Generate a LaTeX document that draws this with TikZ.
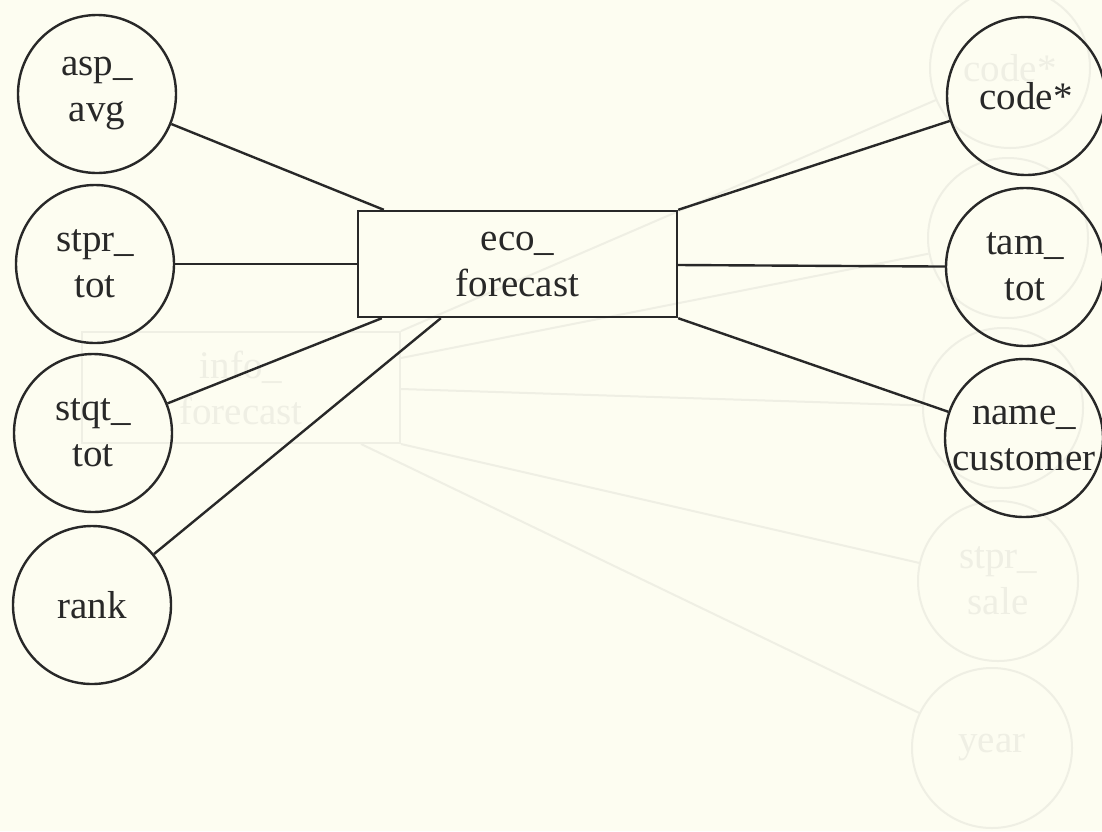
\documentclass[tikz,border=0pt]{standalone}
\usepackage{fontspec}
\setmainfont{Liberation Serif}
\usetikzlibrary{calc}
\definecolor{paper}{RGB}{253,253,241}
\definecolor{ink}{RGB}{40,40,40}
\definecolor{ghost}{RGB}{239,239,228}
\begin{document}
\begin{tikzpicture}[x=1pt,y=-1pt,
  lbl/.style={font=\fontsize{39}{46}\selectfont},
  attr/.style={lbl,circle,draw=ink,line width=2.4pt,minimum size=158pt,inner sep=0pt,align=center,text=ink},
  ent/.style={lbl,rectangle,draw=ink,line width=2.4pt,minimum width=319pt,minimum height=106pt,inner sep=0pt,align=center,text=ink},
  link/.style={draw=ink,line width=2.4pt},
  gattr/.style={lbl,circle,draw=ghost,line width=2pt,minimum size=160pt,inner sep=0pt,align=center,text=ghost},
  gent/.style={lbl,rectangle,draw=ghost,line width=2pt,minimum width=318pt,minimum height=111pt,inner sep=0pt,align=center,text=ghost},
  glink/.style={draw=ghost,line width=2pt}]
\useasboundingbox (0,0) rectangle (1102,831);
\clip (0,0) rectangle (1102,831);
\fill[paper] (0,0) rectangle (1102,831);

% faint show-through from the underlying page
\node[gent] (gi) at (241,387.5) {info\_\\forecast};
\node[gattr] (g1) at (1010,68) {code*};
\node[gattr] (g2) at (1008,238) {};
\node[gattr] (g3) at (1003,408) {};
\node[gattr] (g4) at (998,581) {stpr\_\\sale};
\node[gattr] (g5) at (992,748) {year};
\coordinate (gb) at ($(gi.north east)+(0,27)$);
\coordinate (gc) at ($(gi.north east)+(0,58)$);
\coordinate (ge) at ($(gi.south east)+(-40,0)$);
\draw[glink] (gi.north east) -- (g1);
\draw[glink] (gb) -- (g2);
\draw[glink] (gc) -- (g3);
\draw[glink] (gi.south east) -- (g4);
\draw[glink] (ge) -- (g5);

% main diagram
\node[ent] (eco) at (517.5,264) {eco\_\\forecast};
\node[attr] (asp) at (97,94) {asp\_\\avg};
\node[attr] (stpr) at (95,264) {stpr\_\\tot};
\node[attr] (stqt) at (93,433) {stqt\_\\tot};
\node[attr] (rank) at (92,605) {rank};
\node[attr] (code) at (1026,96) {code*};
\node[attr] (tam) at (1025,267) {tam\_\\tot};
\node[attr] (name) at (1024,438) {name\_\\customer};

\coordinate (ea) at ($(eco.north west)+(27,0)$);
\coordinate (eb) at ($(eco.south west)+(25,0)$);
\coordinate (ec) at ($(eco.south west)+(84,0)$);
\coordinate (ed) at ($(eco.east)+(0,1)$);

\draw[link] (ea) -- (asp);
\draw[link] (eco.west) -- (stpr);
\draw[link] (eb) -- (stqt);
\draw[link] (ec) -- (rank);
\draw[link] (eco.north east) -- (code);
\draw[link] (ed) -- (tam);
\draw[link] (eco.south east) -- (name);
\end{tikzpicture}
\end{document}
